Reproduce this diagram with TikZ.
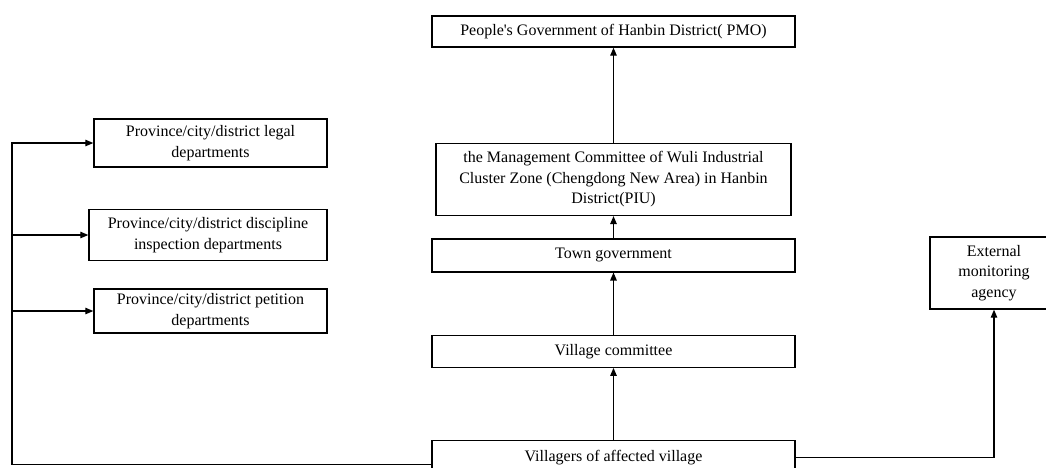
\documentclass[tikz,border=0pt]{standalone}
\usepackage{fontspec}
\setmainfont{Liberation Serif}
\usetikzlibrary{positioning,arrows.meta}

\begin{document}
\begin{tikzpicture}[
  x=1pt, y=-1pt,
  font=\fontsize{16}{20.5}\selectfont,
  node distance=20pt,
  >={Triangle[length=8pt,width=6.5pt]},
  % --- box styles ---
  orgbox/.style={draw=black, line width=1.4pt, align=center, inner sep=3pt, minimum width=363pt, minimum height=32pt},
  sidebox/.style={draw=black, line width=1.4pt, align=center, inner sep=3pt},
  % --- connectors ---
  link/.style={->, line width=1.2pt},
]
\useasboundingbox (0,0) rectangle (1046,467);

% =================== CENTRAL CHAIN ===================
\node[orgbox, minimum height=31pt] (pmo) at (613.5,31.5) {People\textquotesingle s Government of Hanbin District( PMO)};
\node[orgbox, below=95pt of pmo, minimum width=355pt, minimum height=72pt] (piu)
  {the Management Committee of Wuli Industrial\\Cluster Zone (Chengdong New Area) in Hanbin\\District(PIU)};
\node[orgbox, below=22pt of piu, minimum height=33pt] (town) {Town government};
\node[orgbox, below=62pt of town] (vc) {Village committee};
\node[orgbox, below=72pt of vc, minimum height=34pt] (vil) {Villagers of affected village};

% =================== COMPLAINT CHANNELS ===================
\node[sidebox, minimum width=233pt, minimum height=48pt] (legal) at (210.5,143)
  {Province/city/district legal\\departments};
\node[sidebox, minimum width=238pt, minimum height=51pt] (disc) at (208,235)
  {Province/city/district discipline\\inspection departments};
\node[sidebox, minimum width=233pt, minimum height=44pt] (petit) at (210.5,311)
  {Province/city/district petition\\departments};

\node[sidebox, minimum width=128pt, minimum height=72pt] (ext) at (994,273)
  {External\\monitoring\\agency};

\coordinate (bus) at (12,143);

% =================== RELATIONS ===================
% upward chain
\draw[link] (vil.north) -- (vc.south);
\draw[link] (vc.north) -- (town.south);
\draw[link] (town.north) -- (piu.south);
\draw[link] (piu.north) -- (piu.north |- pmo.south);

% villagers -> channels
\draw[link] ([yshift=-7pt]vil.west) -- ([yshift=-7pt]vil.west -| bus) -- (bus) -- (legal.west);
\draw[link] (bus |- disc.west) -- (disc.west);
\draw[link] (bus |- petit.west) -- (petit.west);

% villagers -> monitoring
\draw[link] (vil.east) -| (ext.south);

\end{tikzpicture}
\end{document}
